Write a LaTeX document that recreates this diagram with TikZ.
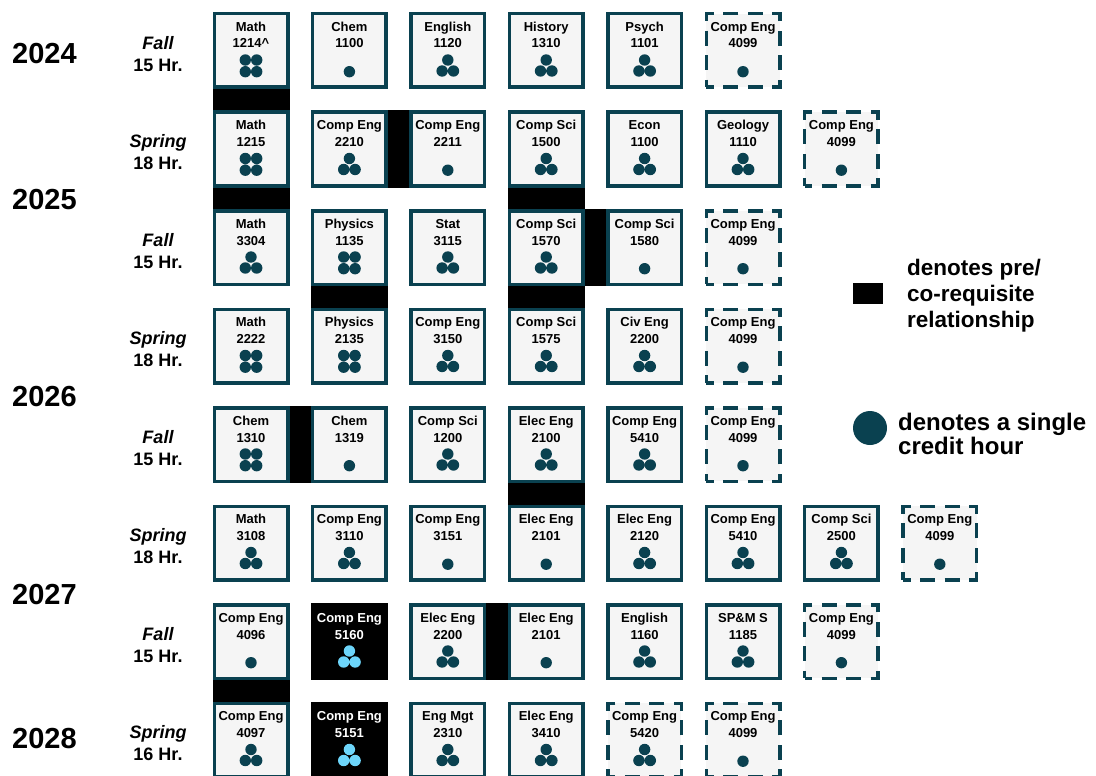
\documentclass[tikz,border=0pt]{standalone}
\usepackage{fontspec}
\setmainfont{Liberation Sans}
\usetikzlibrary{calc}
\definecolor{tealdk}{HTML}{0A4150}
\definecolor{boxgray}{HTML}{F5F5F5}
\definecolor{lightblue}{HTML}{6DD5FA}
\tikzset{
  course/.style={rectangle, draw=tealdk, fill=boxgray, line width=3.5pt, minimum size=73.5pt, inner sep=0pt},
  elective/.style={course, dash pattern=on 15pt off 9.5pt, dash phase=7.5pt},
  darkcourse/.style={course, draw=black, fill=black},
  ctext/.style={font=\fontsize{13pt}{15pt}\selectfont\bfseries, inner sep=0pt, anchor=base},
  req/.style={fill=black},
  yearlabel/.style={font=\fontsize{29pt}{33pt}\selectfont\bfseries, inner sep=0pt, anchor=north west},
  semlabel/.style={font=\fontsize{18pt}{22pt}\selectfont\bfseries, inner sep=0pt, align=center, anchor=center},
  legtext/.style={inner sep=0pt, align=left, anchor=north west},
}
% #1 col, #2 row, #3 style, #4 line1, #5 line2, #6 dots, #7 dot colour, #8 text colour
\newcommand\crsbase[8]{%
  \node[#3] (c#2-#1) at ({251+98.4*#1},{50.5+98.5*#2}) {};
  \path (c#2-#1.center) ++(0,-19.2) node[ctext, text=#8] (c#2-#1-a) {#4};
  \path (c#2-#1.center) ++(0,-2.5) node[ctext, text=#8] (c#2-#1-b) {#5};
  \ifcase#6\relax\or
    \fill[#7] (c#2-#1.center) ++(0,21.2) circle (5.7pt);
  \or\or
    \fill[#7] (c#2-#1.center) ++(0,9.5) circle (5.7pt)
              (c#2-#1.center) ++(-5.7,20.5) circle (5.7pt)
              (c#2-#1.center) ++(5.7,20.5) circle (5.7pt);
  \or
    \fill[#7] (c#2-#1.center) ++(-5.7,9.5) circle (5.7pt)
              (c#2-#1.center) ++(5.7,9.5) circle (5.7pt)
              (c#2-#1.center) ++(-5.7,21.2) circle (5.7pt)
              (c#2-#1.center) ++(5.7,21.2) circle (5.7pt);
  \fi}
\newcommand\crs[6]{\crsbase{#1}{#2}{#3}{#4}{#5}{#6}{tealdk}{black}}
\newcommand\crsdark[5]{\crsbase{#1}{#2}{darkcourse}{#3}{#4}{#5}{lightblue}{white}}

\begin{document}
\begin{tikzpicture}[x=1pt,y=-1pt]
\useasboundingbox (0,0) rectangle (1096,776);

% year labels
\node[yearlabel] (y2024) at (12,43) {2024};
\node[yearlabel] (y2025) at (12,189.5) {2025};
\node[yearlabel] (y2026) at (12,386.5) {2026};
\node[yearlabel] (y2027) at (12,584) {2027};
\node[yearlabel] (y2028) at (12,728) {2028};

% semester labels
\node[semlabel] (s0) at (158,54) {\itshape Fall\\15 Hr.};
\node[semlabel] (s1) at (158,152.5) {\itshape Spring\\18 Hr.};
\node[semlabel] (s2) at (158,251) {\itshape Fall\\15 Hr.};
\node[semlabel] (s3) at (158,349.5) {\itshape Spring\\18 Hr.};
\node[semlabel] (s4) at (158,448) {\itshape Fall\\15 Hr.};
\node[semlabel] (s5) at (158,546.5) {\itshape Spring\\18 Hr.};
\node[semlabel] (s6) at (158,645) {\itshape Fall\\15 Hr.};
\node[semlabel] (s7) at (158,743.5) {\itshape Spring\\16 Hr.};

% row 0
\crs{0}{0}{course}{Math}{1214\textasciicircum}{4}
\crs{1}{0}{course}{Chem}{1100}{1}
\crs{2}{0}{course}{English}{1120}{3}
\crs{3}{0}{course}{History}{1310}{3}
\crs{4}{0}{course}{Psych}{1101}{3}
\crs{5}{0}{elective}{Comp Eng}{4099}{1}
% row 1
\crs{0}{1}{course}{Math}{1215}{4}
\crs{1}{1}{course}{Comp Eng}{2210}{3}
\crs{2}{1}{course}{Comp Eng}{2211}{1}
\crs{3}{1}{course}{Comp Sci}{1500}{3}
\crs{4}{1}{course}{Econ}{1100}{3}
\crs{5}{1}{course}{Geology}{1110}{3}
\crs{6}{1}{elective}{Comp Eng}{4099}{1}
% row 2
\crs{0}{2}{course}{Math}{3304}{3}
\crs{1}{2}{course}{Physics}{1135}{4}
\crs{2}{2}{course}{Stat}{3115}{3}
\crs{3}{2}{course}{Comp Sci}{1570}{3}
\crs{4}{2}{course}{Comp Sci}{1580}{1}
\crs{5}{2}{elective}{Comp Eng}{4099}{1}
% row 3
\crs{0}{3}{course}{Math}{2222}{4}
\crs{1}{3}{course}{Physics}{2135}{4}
\crs{2}{3}{course}{Comp Eng}{3150}{3}
\crs{3}{3}{course}{Comp Sci}{1575}{3}
\crs{4}{3}{course}{Civ Eng}{2200}{3}
\crs{5}{3}{elective}{Comp Eng}{4099}{1}
% row 4
\crs{0}{4}{course}{Chem}{1310}{4}
\crs{1}{4}{course}{Chem}{1319}{1}
\crs{2}{4}{course}{Comp Sci}{1200}{3}
\crs{3}{4}{course}{Elec Eng}{2100}{3}
\crs{4}{4}{course}{Comp Eng}{5410}{3}
\crs{5}{4}{elective}{Comp Eng}{4099}{1}
% row 5
\crs{0}{5}{course}{Math}{3108}{3}
\crs{1}{5}{course}{Comp Eng}{3110}{3}
\crs{2}{5}{course}{Comp Eng}{3151}{1}
\crs{3}{5}{course}{Elec Eng}{2101}{1}
\crs{4}{5}{course}{Elec Eng}{2120}{3}
\crs{5}{5}{course}{Comp Eng}{5410}{3}
\crs{6}{5}{course}{Comp Sci}{2500}{3}
\crs{7}{5}{elective}{Comp Eng}{4099}{1}
% row 6
\crs{0}{6}{course}{Comp Eng}{4096}{1}
\crsdark{1}{6}{Comp Eng}{5160}{3}
\crs{2}{6}{course}{Elec Eng}{2200}{3}
\crs{3}{6}{course}{Elec Eng}{2101}{1}
\crs{4}{6}{course}{English}{1160}{3}
\crs{5}{6}{course}{SP\&M S}{1185}{3}
\crs{6}{6}{elective}{Comp Eng}{4099}{1}
% row 7
\crs{0}{7}{course}{Comp Eng}{4097}{3}
\crsdark{1}{7}{Comp Eng}{5151}{3}
\crs{2}{7}{course}{Eng Mgt}{2310}{3}
\crs{3}{7}{course}{Elec Eng}{3410}{3}
\crs{4}{7}{elective}{Comp Eng}{5420}{3}
\crs{5}{7}{elective}{Comp Eng}{4099}{1}

% pre/co-requisite connectors
\fill[req] (c0-0.south west) rectangle (c1-0.north east);
\fill[req] (c1-1.north east) rectangle (c1-2.south west);
\fill[req] (c1-0.south west) rectangle (c2-0.north east);
\fill[req] (c1-3.south west) rectangle (c2-3.north east);
\fill[req] (c2-3.north east) rectangle (c2-4.south west);
\fill[req] (c2-1.south west) rectangle (c3-1.north east);
\fill[req] (c2-3.south west) rectangle (c3-3.north east);
\fill[req] (c4-0.north east) rectangle (c4-1.south west);
\fill[req] (c4-3.south west) rectangle (c5-3.north east);
\fill[req] (c6-2.north east) rectangle (c6-3.south west);
\fill[req] (c6-0.south west) rectangle (c7-0.north east);

% legend
\node[fill=black, minimum width=30pt, minimum height=21pt, inner sep=0pt] (legreq) at (868,293.5) {};
\node[legtext, font=\fontsize{22.5pt}{26pt}\selectfont\bfseries] (legreqtext) at (907,259) {denotes pre/\\co-requisite\\relationship};
\node[circle, fill=tealdk, minimum size=34pt, inner sep=0pt] (legdot) at (870,428) {};
\node[legtext, font=\fontsize{24pt}{23.5pt}\selectfont\bfseries] (legdottext) at (898,413) {denotes a single\\credit hour};
\end{tikzpicture}
\end{document}
